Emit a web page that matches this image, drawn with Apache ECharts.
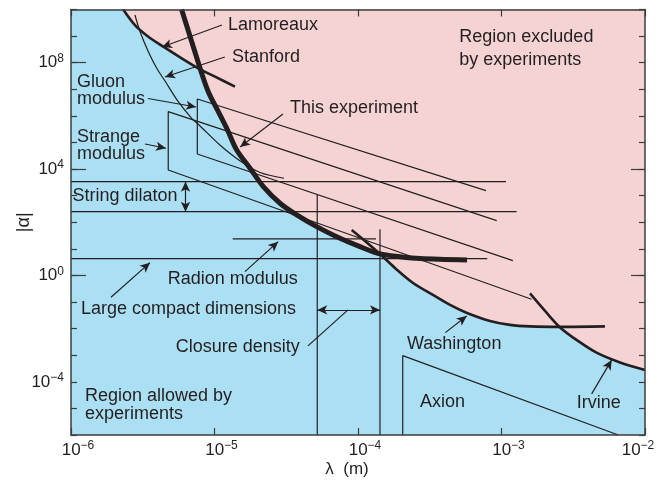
<!DOCTYPE html>
<html><head><meta charset="utf-8">
<script src="https://cdn.jsdelivr.net/npm/echarts@6/dist/echarts.min.js"></script>
<style>html,body{margin:0;padding:0;background:#fff}#c{width:660px;height:484px}</style>
</head><body><div id="c"></div>
<script>
// ---- ticks ----
const xTicks = [1e-6, 1e-5, 1e-4, 1e-3, 1e-2];
const yDecades = [1e-6,1e-5,1e-4,1e-3,1e-2,1e-1,1,1e1,1e2,1e3,1e4,1e5,1e6,1e7,1e8,1e9,1e10];
const yLabelTicks = [1e-4, 1, 1e4, 1e8];
const yLongLeft = [1, 1e4, 1e8];
const yLongRight = [1, 1e4];

// ---- curves [lambda (m), |alpha|] ----
const lamoreaux = [[2.31e-6,1e10],[2.79e-6,2.6e9],[3.46e-6,9.5e8],[4.4e-6,4.0e8],[5.91e-6,1.46e8],[7.71e-6,6.16e7],[1.008e-5,2.98e7],[1.39e-5,1.25e7]];
const stanford = [[2.79e-6,6.21e9],[3.03e-6,1.46e9],[3.46e-6,2.59e8],[3.96e-6,6.16e7],[4.52e-6,2.05e7],[5.59e-6,3.42e6],[6.94e-6,8.12e5],[7.93e-6,4.17e5],[1.09e-5,8.05e4],[1.51e-5,2.02e4],[2.08e-5,7.45e3],[3.05e-5,4.51e3]];
const thisExperiment = [[5.9e-6,1e10],[6.94e-6,6.16e8],[7.93e-6,6.16e7],[9.05e-6,8.12e6],[1.063e-5,1.44e6],[1.232e-5,2.95e5],[1.428e-5,5.22e4],[1.768e-5,1.07e4],[2.19e-5,2.18e3],[2.86e-5,518],[3.74e-5,188],[5.15e-5,68.3],[7.1e-5,28.7],[1.033e-4,12.1],[1.423e-4,6.43],[1.962e-4,5.09],[2.7e-4,4.36],[5.75e-4,3.83]];
const washington = [[9.04e-5,51.3],[1.119e-4,19.8],[1.423e-4,6.43],[1.81e-4,1.91],[2.42e-4,0.522],[3.33e-4,0.185],[4.38e-4,0.0778],[5.75e-4,0.0389],[8.32e-4,0.0195],[1.146e-3,0.0138],[1.58e-3,0.0121],[2.56e-3,0.0116],[5.26e-3,0.0121]];
const irvine = [[1.58e-3,0.21],[2.01e-3,0.0462],[2.56e-3,0.0111],[3.41e-3,3.45e-3],[4.63e-3,1.22e-3],[6.7e-3,5.36e-4],[1e-2,2.8e-4]];
const excludedBoundary = [[2.31e-6,1e10],[2.79e-6,2.6e9],[3.46e-6,9.5e8],[4.4e-6,4.0e8],[5.91e-6,1.46e8],[7.71e-6,6.16e7],[9.05e-6,8.12e6],[1.063e-5,1.44e6],[1.232e-5,2.95e5],[1.428e-5,5.22e4],[1.768e-5,1.07e4],[2.19e-5,2.18e3],[2.86e-5,518],[3.74e-5,188],[5.15e-5,68.3],[7.1e-5,28.7],[1.033e-4,12.1],[1.423e-4,6.43],[1.81e-4,1.91],[2.42e-4,0.522],[3.33e-4,0.185],[4.38e-4,0.0778],[5.75e-4,0.0389],[8.32e-4,0.0195],[1.146e-3,0.0138],[1.58e-3,0.0121],[2.56e-3,0.0113],[3.41e-3,3.45e-3],[4.63e-3,1.22e-3],[6.7e-3,5.36e-4],[1e-2,2.8e-4]];

// ---- theory predictions ----
const gluonModulus = [[7.8e-4,1.54e3],[7.59e-6,4.32e6],[7.59e-6,3.7e4],[1.2e-3,3.6]];
const strangeModulus = [[9.26e-4,115],[4.76e-6,1.44e6],[4.76e-6,9.25e3],[1.62e-3,0.127]];
const stringDilatonTop = [[1e-6,3.36e3],[1.075e-3,3.36e3]];
const stringDilatonBottom = [[1e-6,250],[1.276e-3,250]];
const radionModulus = [[1.34e-5,23.6],[1.335e-4,23.6]];
const largeCompact = [[1e-6,4.28],[7.96e-4,4.28]];
const closureLeft = [[5.2e-5,1062],[5.2e-5,1e-6]];
const closureRight = [[1.423e-4,54.6],[1.423e-4,1e-6]];
const axion = [[6.52e-3,1e-6],[2.05e-4,9.66e-4],[2.05e-4,1e-6]];

// ---- annotation arrows (data coords: from -> to) ----
const pointerArrows = [
  [[1.128e-5,2.61e9],[4.31e-6,3.89e8]],   // Lamoreaux
  [[1.18e-5,1.64e8],[4.52e-6,2.9e7]],     // Stanford
  [[3.44e-6,4.51e6],[7.43e-6,2.16e6]],    // Gluon modulus
  [[3.28e-6,8.78e4],[4.59e-6,6.05e4]],    // Strange modulus
  [[3.0e-5,1.18e6],[1.51e-5,6.77e4]],     // This experiment
  [[1.63e-5,1.39],[2.78e-5,18.6]],        // Radion modulus
  [[1.9e-6,0.1516],[3.55e-6,3.03]],       // Large compact dimensions
  [[4.06e-4,7.08e-3],[5.72e-4,0.030]],    // Washington
  [[4.25e-3,3.51e-5],[5.86e-3,6.66e-4]]   // Irvine
];
const doubleArrows = [
  [[6.28e-6,3.36e3],[6.28e-6,250]],       // String dilaton
  [[5.2e-5,0.0505],[1.423e-4,0.0505]]     // Closure density
];
const leaderLines = [
  [[4.48e-5,2.24e-3],[8.52e-5,0.0505]]    // Closure density
];

// ---- text ----
const noteTexts = ['Lamoreaux','Stanford','Gluon','modulus','Strange','modulus','This experiment','String dilaton',
  'Radion modulus','Large compact dimensions','Closure density','Washington','Axion','Irvine',
  'Region excluded','by experiments','Region allowed by','experiments'];
const notePos = [[228,25],[232,57],[77,81.7],[77,99.3],[77,136.7],[77,154.3],[290,108.5],[72.5,196],
  [167.7,279.3],[81,309],[175.7,347.3],[407,344],[420,401.7],[576.7,403.3],
  [459.3,37.3],[459.3,60],[85,396],[85,414.3]];

const ink = '#231f20';
const axisColor = '#3c3c3c';
const blue = '#abdff3';
const pink = '#f6d3d3';
const FONT = 'Liberation Sans';

function expo(v){ const e = Math.round(Math.log10(v)); return e < 0 ? '\u2212' + (-e) : String(e); }
function xLabel(v){
  const e = Math.round(Math.log10(v));
  // last label is pulled in so it stays inside the page
  return e >= -2 ? '10{sup|' + expo(v) + '}{pad| }' : '{pad| }10{sup|' + expo(v) + '}';
}

function yAx(pos, opts){
  return Object.assign({
    type:'log', logBase:10, min:1e-6, max:1e10, position:pos, z:10,
    axisLine:{show:false, lineStyle:{color:axisColor, width:1.5}},
    axisTick:{show:true, inside:true, length:6, lineStyle:{color:axisColor, width:1.2}},
    axisLabel:{show:false}, splitLine:{show:false}
  }, opts);
}

const lineSeries = (data, width, smooth) => ({
  type:'line', data, symbol:'none', smooth: smooth, silent:true, z:3,
  lineStyle:{color:ink, width:width}, clip:true
});

const arrowData = [].concat(
  pointerArrows.map(([a,b]) => [{coord:a, symbol:'none'},{coord:b, symbol:'arrow'}]),
  doubleArrows.map(([a,b]) => [{coord:a, symbol:'arrow'},{coord:b, symbol:'arrow'}]),
  leaderLines.map(([a,b]) => [{coord:a, symbol:'none'},{coord:b, symbol:'none'}])
);

const chart = echarts.init(document.getElementById('c'), null, {renderer:'canvas'});
chart.setOption({
  animation:false,
  backgroundColor:'#ffffff',
  textStyle:{fontFamily:FONT},
  grid:{left:71, right:15, top:9.5, bottom:49, show:true, backgroundColor:blue, borderWidth:0,
        containLabel:false, outerBoundsMode:'none'},
  xAxis:[
    {type:'log', logBase:10, min:1e-6, max:1e-2, position:'bottom', z:10,
     axisLine:{show:true, lineStyle:{color:axisColor, width:1.5}},
     axisTick:{show:true, inside:true, length:7, customValues:xTicks, lineStyle:{color:axisColor, width:1.2}},
     axisLabel:{show:true, customValues:xTicks, margin:5, fontSize:17, fontFamily:FONT, color:ink, lineHeight:20,
       hideOverlap:false,
       formatter: xLabel,
       rich:{pad:{width:14, fontSize:12, fontFamily:FONT},
             sup:{fontSize:12, fontFamily:FONT, color:ink, verticalAlign:'top', lineHeight:12}}},
     splitLine:{show:false},
     name:'\u03bb  (m)', nameLocation:'middle', nameGap:26, nameMoveOverlap:false,
     nameTextStyle:{fontSize:17, fontFamily:FONT, color:ink, padding:[0,22,0,0]}},
    {type:'log', logBase:10, min:1e-6, max:1e-2, position:'top', z:10,
     axisLine:{show:true, lineStyle:{color:axisColor, width:1.5}},
     axisTick:{show:true, inside:true, length:7, customValues:xTicks, lineStyle:{color:axisColor, width:1.2}},
     axisLabel:{show:false}, splitLine:{show:false}}
  ],
  yAxis:[
    yAx('left', {
      axisLine:{show:true, lineStyle:{color:axisColor, width:1.5}},
      axisTick:{show:true, inside:true, length:15, customValues:yLongLeft, lineStyle:{color:axisColor, width:1.2}},
      axisLabel:{show:true, customValues:yLabelTicks, margin:7, fontSize:17, fontFamily:FONT, color:ink, lineHeight:20,
        formatter: v => '10{sup|' + expo(v) + '}',
        rich:{sup:{fontSize:12, fontFamily:FONT, color:ink, verticalAlign:'top', lineHeight:12}}},
      name:'|\u03b1|', nameLocation:'middle', nameGap:38, nameMoveOverlap:false,
      nameTextStyle:{fontSize:18, fontFamily:FONT, color:ink}
    }),
    yAx('left', {axisTick:{show:true, inside:true, length:6, customValues:yDecades, lineStyle:{color:axisColor, width:1.2}}}),
    yAx('right', {axisLine:{show:true, lineStyle:{color:axisColor, width:1.5}},
      axisTick:{show:true, inside:true, length:6, customValues:yDecades, lineStyle:{color:axisColor, width:1.2}}}),
    yAx('right', {axisTick:{show:true, inside:true, length:14, customValues:yLongRight, lineStyle:{color:axisColor, width:1.2}}})
  ],
  series:[
    {type:'line', data:excludedBoundary, symbol:'none', smooth:0.3, silent:true, z:1,
     lineStyle:{width:0, opacity:0}, areaStyle:{color:pink, opacity:1, origin:'end'}},
    lineSeries(gluonModulus, 1.2, false),
    lineSeries(strangeModulus, 1.2, false),
    lineSeries(stringDilatonTop, 1.2, false),
    lineSeries(stringDilatonBottom, 1.2, false),
    lineSeries(radionModulus, 1.2, false),
    lineSeries(largeCompact, 1.2, false),
    lineSeries(closureLeft, 1.2, false),
    lineSeries(closureRight, 1.2, false),
    lineSeries(axion, 1.2, false),
    lineSeries(stanford, 1.2, 0.3),
    lineSeries(lamoreaux, 2.6, 0.3),
    lineSeries(washington, 2.6, 0.3),
    lineSeries(irvine, 2.6, 0.3),
    lineSeries(thisExperiment, 5, 0.3),
    {type:'line', data:[], symbol:'none', silent:true, z:4,
     markLine:{silent:true, animation:false, symbolSize:[7,10], precision:10,
       label:{show:false}, lineStyle:{color:ink, width:1.2, type:'solid'},
       emphasis:{disabled:true}, data:arrowData}}
  ],
  graphic: noteTexts.map((t, i) => ({
    type:'text', x:notePos[i][0], y:notePos[i][1], silent:true, z:100,
    style:{text:t, font:'18px "' + FONT + '"', fill:ink, textVerticalAlign:'middle', verticalAlign:'middle', textAlign:'left'}
  }))
});
</script>
</body></html>
